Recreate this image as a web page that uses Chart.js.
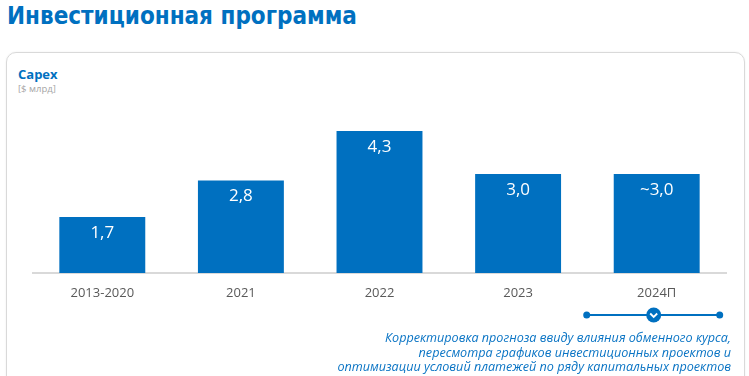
<!DOCTYPE html>
<html>
<head>
<meta charset="utf-8">
<script src="https://cdn.jsdelivr.net/npm/chart.js@4/dist/chart.umd.min.js"></script>
<style>
  html, body { margin: 0; padding: 0; background: #fff; }
  body { width: 749px; height: 376px; position: relative; overflow: hidden; font-family: 'Open Sans', sans-serif; }
  .title { position: absolute; left: 7px; top: 2px; font-family: 'DejaVu Sans Condensed', 'DejaVu Sans', sans-serif; font-stretch: condensed; font-weight: bold; font-size: 24px; color: #0070c0; white-space: nowrap; }
  .card { position: absolute; left: 6px; top: 52px; width: 737px; height: 400px; border: 1px solid #d9d9d9; border-radius: 10px; box-shadow: 0 0 2px rgba(0,0,0,0.08); }
  .capex { position: absolute; left: 18px; top: 65px; font-weight: bold; font-size: 13px; color: #0070c0; }
  .unit { position: absolute; left: 18px; top: 82px; font-size: 9.5px; color: #a6a6a6; }
  .note { position: absolute; right: 18px; top: 331px; text-align: right; font-family: 'Open Sans', sans-serif; font-style: italic; font-size: 12.6px; line-height: 14.5px; color: #0a74c4; white-space: nowrap; }
  canvas { position: absolute; left: 0; top: 0; }
</style>
</head>
<body>
<div class="title">Инвестиционная программа</div>
<div class="card"></div>
<div class="capex">Capex</div>
<div class="unit">[$ млрд]</div>
<canvas id="capexChart" width="749" height="376"></canvas>
<div class="note">Корректировка прогноза ввиду влияния обменного курса,<br>пересмотра графиков инвестиционных проектов и<br>оптимизации условий платежей по ряду капитальных проектов</div>

<script>
// Данные
const categories = ['2013-2020', '2021', '2022', '2023', '2024П'];
const capexValues = [1.7, 2.8, 4.3, 3.0, 3.0];
const labelPrefixes = ['', '', '', '', '~'];

const blue = '#0070c0';

// подписи значений внутри столбцов
const valueLabels = {
    id: 'valueLabels',
    afterDatasetsDraw(chart) {
        const ctx = chart.ctx;
        const meta = chart.getDatasetMeta(0);
        ctx.save();
        ctx.fillStyle = '#fff';
        ctx.font = '17px "Open Sans", sans-serif';
        ctx.textAlign = 'center';
        ctx.textBaseline = 'middle';
        meta.data.forEach(function(bar, i) {
            const txt = labelPrefixes[i] + capexValues[i].toFixed(1).replace('.', ',');
            ctx.fillText(txt, bar.x, bar.y + 16);
        });
        ctx.restore();
    }
};

// линия-маркер под прогнозом
const forecastMarker = {
    id: 'forecastMarker',
    afterDraw(chart) {
        const ctx = chart.ctx;
        const meta = chart.getDatasetMeta(0);
        const bar = meta.data[meta.data.length - 1];
        const cx = bar.x - 3;
        const y = chart.chartArea.bottom + 42;
        ctx.save();
        ctx.strokeStyle = blue;
        ctx.fillStyle = blue;
        ctx.lineWidth = 2;
        ctx.beginPath();
        ctx.moveTo(cx - 67, y);
        ctx.lineTo(cx + 66, y);
        ctx.stroke();
        [cx - 67, cx + 66].forEach(function(px) {
            ctx.beginPath();
            ctx.arc(px, y, 3.5, 0, Math.PI * 2);
            ctx.fill();
        });
        ctx.beginPath();
        ctx.arc(cx, y, 7.5, 0, Math.PI * 2);
        ctx.fill();
        ctx.strokeStyle = '#fff';
        ctx.lineWidth = 1.8;
        ctx.beginPath();
        ctx.moveTo(cx - 3.5, y - 1.5);
        ctx.lineTo(cx, y + 2);
        ctx.lineTo(cx + 3.5, y - 1.5);
        ctx.stroke();
        ctx.restore();
    }
};

const ctx = document.getElementById('capexChart').getContext('2d');
const capexChart = new Chart(ctx, {
    type: 'bar',
    data: {
        labels: categories,
        datasets: [{
            data: capexValues,
            backgroundColor: blue,
            borderWidth: 0,
            barPercentage: 0.62,
            categoryPercentage: 1.0
        }]
    },
    options: {
        responsive: false,
        animation: false,
        layout: {
            padding: { left: 33, right: 23, top: 108, bottom: 75 }
        },
        plugins: {
            legend: { display: false },
            tooltip: { enabled: false }
        },
        scales: {
            x: {
                grid: { display: false, drawTicks: false },
                border: { display: true, color: '#d9d9d9', width: 2 },
                ticks: {
                    color: '#595959',
                    padding: 12,
                    font: { size: 13, family: 'Open Sans, sans-serif' }
                },
                afterFit: function(scale) { scale.height = 28; }
            },
            y: {
                display: false,
                min: 0,
                max: 5
            }
        }
    },
    plugins: [valueLabels, forecastMarker]
});
</script>
</body>
</html>
